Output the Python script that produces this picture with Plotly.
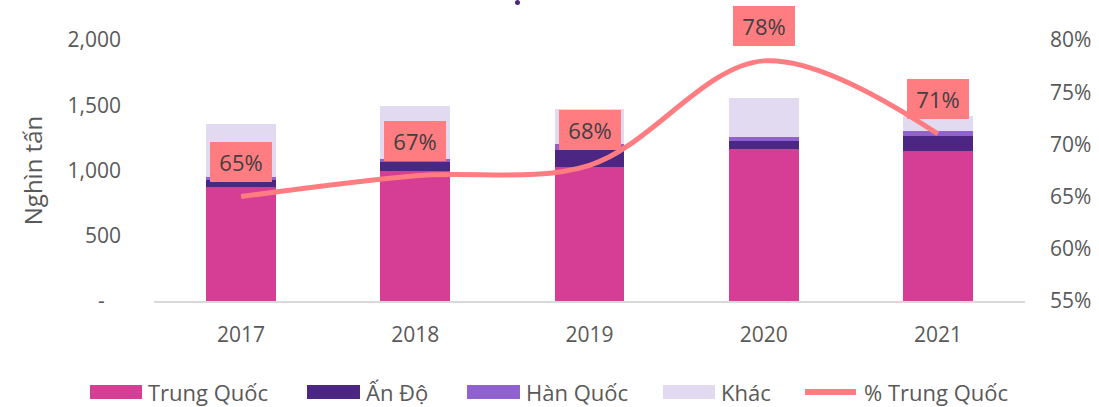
import plotly.graph_objects as go

years = ["2017", "2018", "2019", "2020", "2021"]
trung_quoc = [874, 994, 1030, 1168, 1152]
an_do = [56, 72, 125, 56, 115]
han_quoc = [21, 25, 46, 31, 38]
khac = [406, 406, 271, 299, 110]
pct_trung_quoc = [0.65, 0.67, 0.68, 0.78, 0.71]
pct_labels = ["65%", "67%", "68%", "78%", "71%"]

left_ticks = [0, 500, 1000, 1500, 2000]
left_ticktext = ["-\u00a0\u00a0\u00a0", "500", "1,000", "1,500", "2,000"]
right_ticks = [0.55, 0.60, 0.65, 0.70, 0.75, 0.80]

C_TQ = "#D63D94"
C_AD = "#4B2683"
C_HQ = "#8F62CF"
C_KH = "#E2DAF1"
C_LINE = "#FF7C80"
FONT = "Open Sans"
TXT = "#595959"

W, H = 1099, 407
L, R, T, B = 154, 74, 40, 106
PW, PH = W - L - R, H - T - B


def px_x(p):
    return (p - L) / PW


def px_y(p):
    return (H - B - p) / PH


fig = go.Figure()
series = [("Trung Quốc", trung_quoc, C_TQ), ("Ấn Độ", an_do, C_AD),
          ("Hàn Quốc", han_quoc, C_HQ), ("Khác", khac, C_KH)]
for name, vals, col in series:
    fig.add_trace(go.Bar(x=years, y=vals, name=name, marker=dict(color=col, line=dict(width=0)),
                         showlegend=False))

fig.add_trace(go.Scatter(x=years, y=pct_trung_quoc, yaxis="y2", mode="lines",
                         line=dict(color=C_LINE, width=5, shape="spline", smoothing=1.0),
                         name="% Trung Quốc", showlegend=False))

for i, (v, lab) in enumerate(zip(pct_trung_quoc, pct_labels)):
    fig.add_annotation(x=i, y=v, xref="x", yref="y2", text=lab, showarrow=False,
                       yshift=35, bgcolor=C_LINE, font=dict(family=FONT, size=22, color="#404040"),
                       width=50, height=28, borderpad=6, borderwidth=0)

# manual legend
legend_items = [("Trung Quốc", C_TQ, "box", 90, 142),
                ("Ấn Độ", C_AD, "box", 307, 360),
                ("Hàn Quốc", C_HQ, "box", 467, 520),
                ("Khác", C_KH, "box", 663, 715),
                ("% Trung Quốc", C_LINE, "line", 803, 858)]
ly = 392
for name, col, kind, x0, x1 in legend_items:
    if kind == "box":
        fig.add_shape(type="rect", xref="paper", yref="paper", x0=px_x(x0), x1=px_x(x1),
                      y0=px_y(ly + 7), y1=px_y(ly - 7), fillcolor=col, line=dict(width=0))
    else:
        fig.add_shape(type="line", xref="paper", yref="paper", x0=px_x(x0 + 2), x1=px_x(x1 - 2),
                      y0=px_y(ly), y1=px_y(ly), line=dict(color=col, width=6))
    fig.add_annotation(xref="paper", yref="paper", x=px_x(x1 + 4), y=px_y(ly), text=name,
                       showarrow=False, xanchor="left", yanchor="middle",
                       font=dict(family=FONT, size=22, color=TXT))

# fragment of cropped title
fig.add_shape(type="circle", xref="paper", yref="paper", x0=px_x(515), x1=px_x(520),
              y0=px_y(5), y1=px_y(0), fillcolor="#4B2683", line=dict(width=0))

fig.update_layout(
    width=W, height=H, margin=dict(l=L, r=R, t=T, b=B, autoexpand=False),
    barmode="stack", bargap=0.6,
    paper_bgcolor="white", plot_bgcolor="white",
    font=dict(family=FONT, size=21, color=TXT),
    xaxis=dict(type="category", range=[-0.5, 4.5], showline=True, linecolor="#D9D9D9",
               linewidth=2, ticks="", showgrid=False, automargin=False,
               tickfont=dict(size=21, color=TXT), ticklabelstandoff=14),
    yaxis=dict(range=[0, 2000], tickvals=left_ticks, ticktext=left_ticktext, showgrid=False,
               zeroline=False, showline=False, tickfont=dict(size=21, color=TXT),
               ticklabelstandoff=32, automargin=False,
               title=dict(text="Nghìn tấn", font=dict(size=24, color=TXT), standoff=18)),
    yaxis2=dict(range=[0.55, 0.80], tickvals=right_ticks, tickformat=".0%", overlaying="y",
                side="right", showgrid=False, zeroline=False, showline=False, automargin=False,
                tickfont=dict(size=21, color=TXT), ticklabelstandoff=24),
)

fig.write_html("out.html", config={"displayModeBar": False},
               post_script="document.body.style.margin='0';")
